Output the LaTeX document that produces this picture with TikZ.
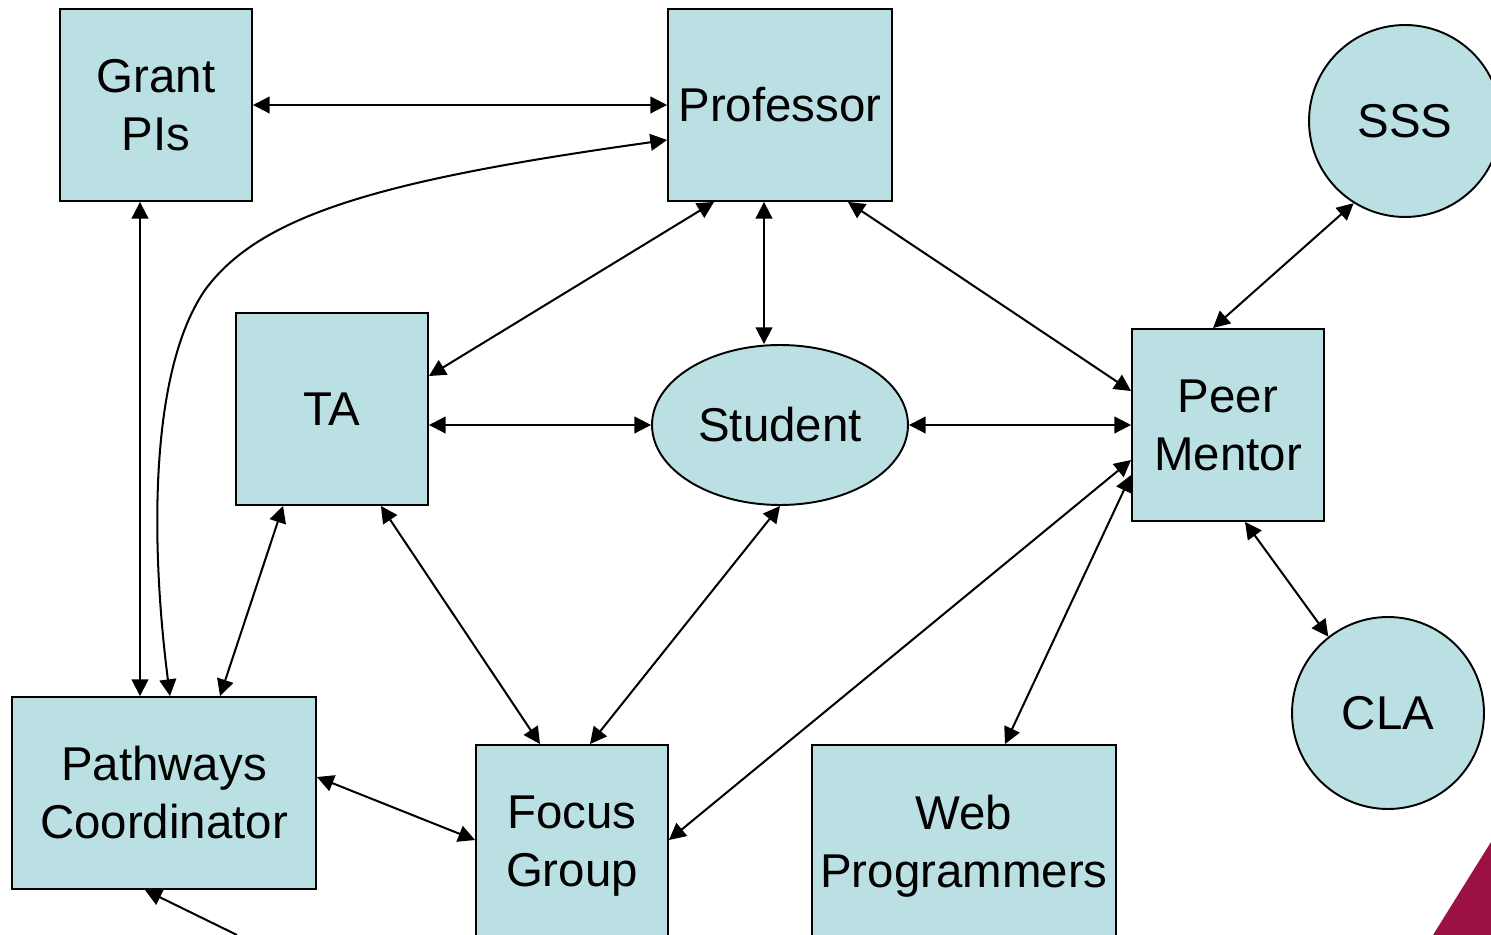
\documentclass[tikz,border=0pt]{standalone}
\usepackage{fontspec}
\setmainfont{Liberation Sans}
\usepackage{tikz}
\usetikzlibrary{shapes.geometric, arrows.meta, calc}
\definecolor{boxfill}{RGB}{187,224,227}
\definecolor{slidered}{RGB}{155,17,70}

\begin{document}
\begin{tikzpicture}[x=0.02cm, y=-0.02cm,
    box/.style={draw, line width=1.1pt, fill=boxfill, minimum height=3.84cm, inner sep=0pt, align=center, font=\fontsize{27}{33}\selectfont},
    circ/.style={box, circle, minimum size=3.84cm},
    ell/.style={box, ellipse, minimum width=5.12cm, minimum height=3.2cm},
    link/.style={line width=1.15pt, {Triangle[length=9.5pt,width=9.5pt]}-{Triangle[length=9.5pt,width=9.5pt]}}]
  \useasboundingbox (0,0) rectangle (1491,935);
  \clip (0,0) rectangle (1491,935);

  % Slide corner
  \fill[slidered] (1433,935) -- (1491,842) -- (1491,935) -- cycle;

  % Top row
  \node[box, minimum width=3.84cm] (grant) at (156,105) {Grant\\PIs};
  \node[box, minimum width=4.48cm] (prof) at (780,105) {Professor};
  \node[circ] (sss) at (1405,121) {SSS};

  % Middle row
  \node[box, minimum width=3.84cm] (ta) at (332,409) {TA};
  \node[ell] (student) at (780,425) {Student};
  \node[box, minimum width=3.84cm] (peer) at (1228,425) {Peer\\Mentor};
  \node[circ] (cla) at (1388,713) {CLA};

  % Bottom row (boxes run off the page)
  \node[box, minimum width=6.08cm] (pathways) at (164,793) {Pathways\\Coordinator};
  \node[box, minimum width=3.84cm, minimum height=4.04cm] (focus) at (572,846) {Focus\\Group};
  \node[box, minimum width=6.08cm, minimum height=4.04cm] (web) at (964,846) {Web\\Programmers};
  \coordinate (offpage) at (237,935);

  % Links
  \draw[link] (grant.east) -- (prof.west);
  \draw[link] ($(prof.west)+(0,35)$) .. controls (380,180) and (260,215) .. (205,290)
    .. controls (150,370) and (150,540) .. ($(pathways.north)+(6,0)$);
  \draw[link] ($(grant.south)+(-16,0)$) -- ($(pathways.north)+(-24,0)$);
  \draw[link] ($(prof.south west)+(47,0)$) -- ($(ta.north east)+(0,64)$);
  \draw[link] ($(prof.south)+(-16,0)$) -- ($(student.north)+(-16,0)$);
  \draw[link] ($(prof.south east)+(-45,0)$) -- ($(peer.north west)+(0,63)$);
  \draw[link] (sss.238) -- ($(peer.north)+(-15,0)$);
  \draw[link] ($(ta.east)+(0,16)$) -- (student.west);
  \draw[link] (student.east) -- (peer.west);
  \draw[link] ($(ta.south west)+(48,0)$) -- ($(pathways.north)+(56,0)$);
  \draw[link] ($(ta.south east)+(-48,0)$) -- ($(focus.north)+(-32,0)$);
  \draw[link] (student.south) -- ($(focus.north)+(18,0)$);
  \draw[link] ($(peer.west)+(0,35)$) -- ($(focus.east)+(0,-6)$);
  \draw[link] ($(peer.west)+(0,50)$) -- ($(web.north)+(41,0)$);
  \draw[link] ($(peer.south)+(17,0)$) -- (cla.128);
  \draw[link] ($(pathways.east)+(0,-16)$) -- ($(focus.west)+(0,-6)$);
  \draw[line width=1.15pt, -{Triangle[length=9.5pt,width=9.5pt]}] (offpage) -- ($(pathways.south)+(-19,0)$);
\end{tikzpicture}
\end{document}
